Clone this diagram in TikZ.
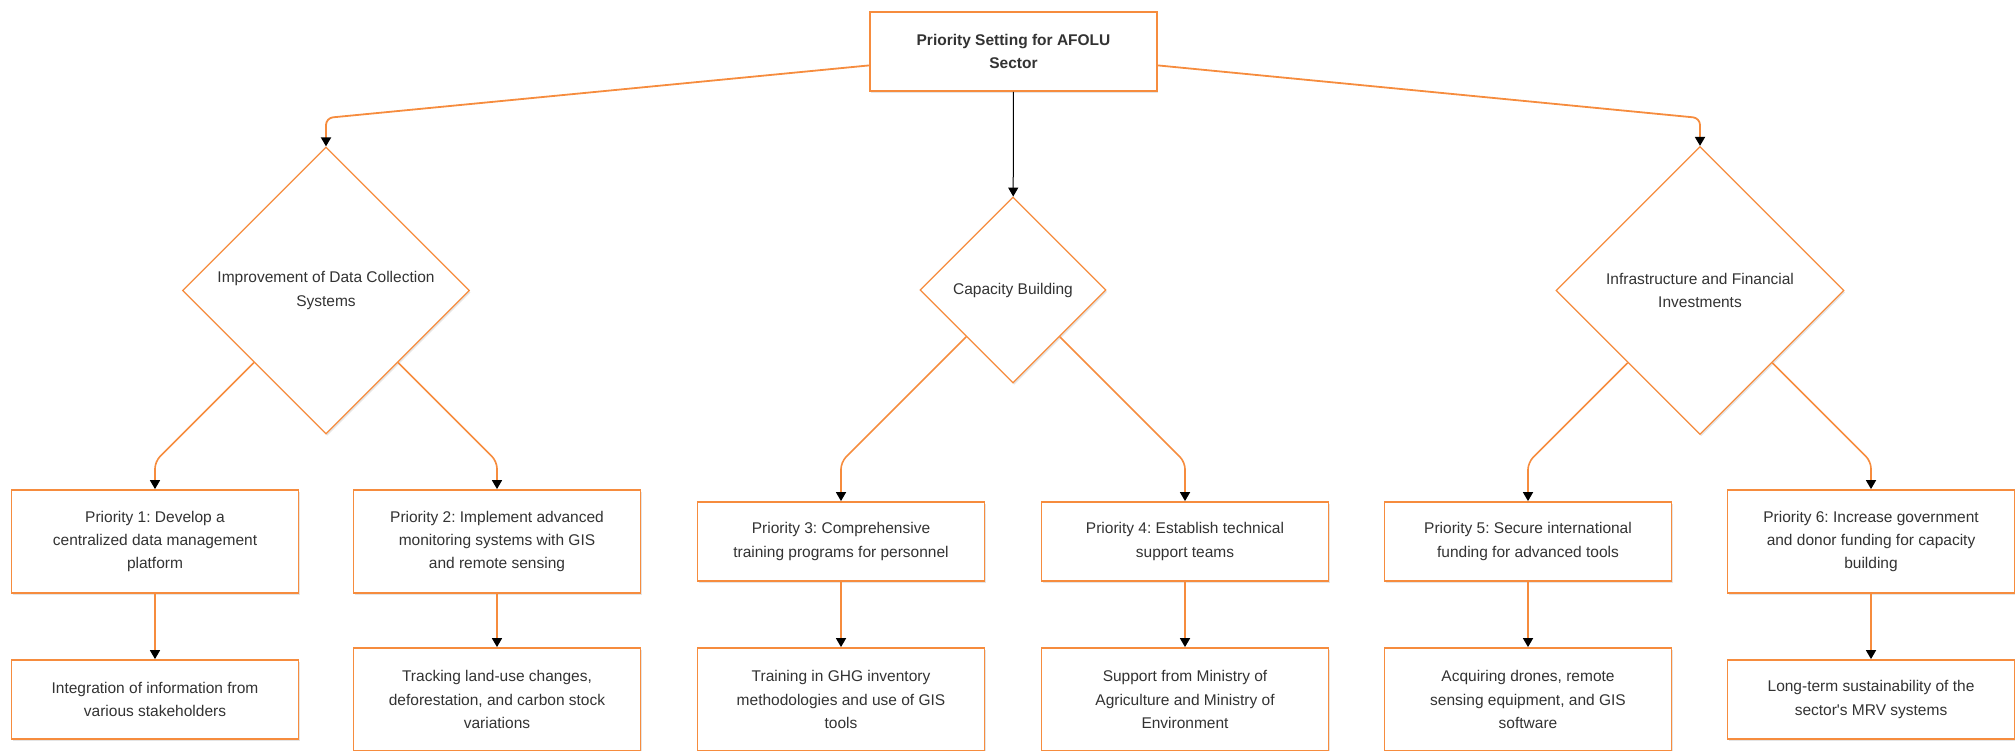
\documentclass[tikz,border=0pt]{standalone}
\usepackage{fontspec}
\setmainfont{Liberation Sans}
\usetikzlibrary{arrows.meta,shapes.geometric,shadows}
\definecolor{accent}{RGB}{246,140,62}
\definecolor{ink}{HTML}{333333}
\frenchspacing
\begin{document}
\begin{tikzpicture}[x=1pt,y=-1pt,
  basefont/.style={font=\fontsize{15.5}{23.3}\selectfont},
  basefont, text=ink,
  soft/.style={drop shadow={shadow xshift=1.2pt,shadow yshift=-1.8pt,opacity=0.10,fill=black}},
  box/.style={draw=accent, line width=1.8pt, fill=white, minimum width=287pt,
    align=center, inner sep=0pt, soft},
  boxthree/.style={box, minimum height=103pt},
  boxtwo/.style={box, minimum height=79pt},
  choice/.style={diamond, draw=accent, line width=1.2pt, fill=white, aspect=1,
    inner sep=0pt, align=center, soft},
  link/.style={draw=accent, line width=1.6pt, rounded corners=7pt,
    -{Triangle[width=10pt,length=9pt,color=black]}},
]
\clip (0,0) rectangle (2015,751);

% root
\node[boxtwo, font=\fontsize{15.5}{23.3}\selectfont\bfseries] (top) at (1013.5,51.5)
  {Priority Setting for AFOLU\\Sector};

% decision areas
\node[choice, minimum width=287pt, minimum height=287pt] (dL) at (326,290.5)
  {Improvement of Data Collection\\Systems};
\node[choice, minimum width=186pt, minimum height=186pt] (dC) at (1013,290)
  {Capacity Building};
\node[choice, minimum width=288pt, minimum height=288pt] (dR) at (1700,290.5)
  {Infrastructure and Financial\\Investments};

% priorities
\node[boxthree] (p1) at (155,541.5) {Priority 1: Develop a\\centralized data management\\platform};
\node[boxthree] (p2) at (497,541.5) {Priority 2: Implement advanced\\monitoring systems with GIS\\and remote sensing};
\node[boxtwo]   (p3) at (841,541.5)   {Priority 3: Comprehensive\\training programs for personnel};
\node[boxtwo]   (p4) at (1185,541.5) {Priority 4: Establish technical\\support teams};
\node[boxtwo]   (p5) at (1528,541.5)  {Priority 5: Secure international\\funding for advanced tools};
\node[boxthree] (p6) at (1871,541.5)  {Priority 6: Increase government\\and donor funding for capacity\\building};

% outcomes
\node[boxtwo]   (b1) at (155,699.5) {Integration of information from\\various stakeholders};
\node[boxthree] (b2) at (497,699.5) {Tracking land-use changes,\\deforestation, and carbon stock\\variations};
\node[boxthree] (b3) at (841,699.5)   {Training in GHG inventory\\methodologies and use of GIS\\tools};
\node[boxthree] (b4) at (1185,699.5) {Support from Ministry of\\Agriculture and Ministry of\\Environment};
\node[boxthree] (b5) at (1528,699.5)  {Acquiring drones, remote\\sensing equipment, and GIS\\software};
\node[boxtwo]   (b6) at (1871,699.5)  {Long-term sustainability of the\\sector\textquotesingle s MRV systems};

% root to areas
\draw[link, line width=1.8pt] (top) -- (326,118) -- (dL);
\draw[link, line width=1.8pt] (top) -- (1700,118) -- (dR);
\draw[link, draw=black, line width=1pt] (top) -- (dC);

% areas to priorities
\draw[link] (dL) -- (155,461.5) -- (p1);
\draw[link] (dL) -- (497,461.5) -- (p2);
\draw[link] (dC) -- (841,462) -- (p3);
\draw[link] (dC) -- (1185,462) -- (p4);
\draw[link] (dR) -- (1528,462.5) -- (p5);
\draw[link] (dR) -- (1871,461.5) -- (p6);

% priorities to outcomes
\foreach \i in {1,...,6} \draw[link] (p\i) -- (b\i);
\end{tikzpicture}
\end{document}
